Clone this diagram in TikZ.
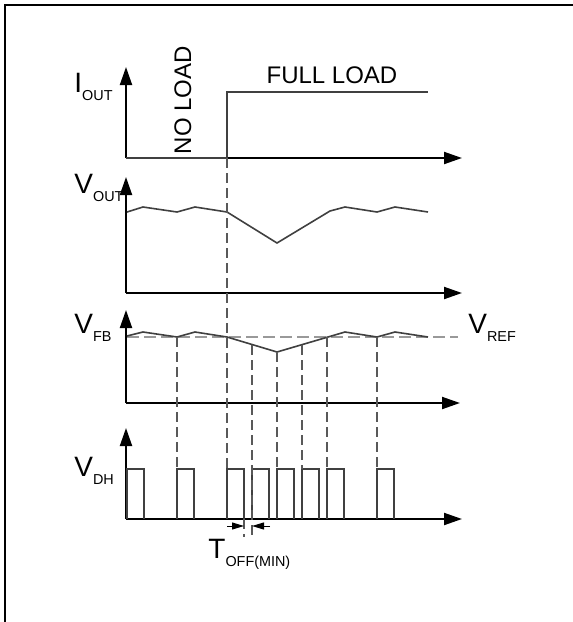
\documentclass[tikz,border=0pt]{standalone}
\usepackage{fontspec}
\setmainfont{Liberation Sans}
\usetikzlibrary{arrows.meta}

\newcommand{\sig}[2]{{\fontsize{14}{16}\selectfont #1}\raisebox{-4pt}{\fontsize{7.2}{9}\selectfont #2}}

\tikzset{
  axis/.style={line width=1pt,-{Triangle[length=9pt,width=6pt]}},
  wave/.style={line width=0.8pt,black!75},
  guide/.style={line width=0.7pt,black!65,dash pattern=on 5pt off 2.5pt},
  reflevel/.style={line width=0.8pt,black!40,dash pattern=on 6pt off 2.5pt},
  siglabel/.style={inner sep=0pt,anchor=base west},
  loadlabel/.style={inner sep=0pt,anchor=base,font=\fontsize{12}{14}\selectfont},
  toff/.style={line width=0.5pt,-{Triangle[length=6pt,width=3.5pt]}}
}

\begin{document}
\begin{tikzpicture}[x=0.5pt,y=-0.5pt]
  % pixel grid of the sheet, y counted downwards
  \useasboundingbox (0,0) rectangle (573,622);
  \draw[line width=1pt] (5,622) -- (5,5) -- (573,5);

  % axes of the four traces
  \foreach \ytop/\ybase/\xend in {67/158/462,177/293/462,310/403/460,428/519/462}{
    \draw[axis] (126,\ybase) -- (126,\ytop);
    \draw[axis] (126,\ybase) -- (\xend,\ybase);
  }

  % load current step
  \draw[wave] (126,158) -- (227,158) -- (227,92) -- (428,92);
  \node[loadlabel] (full) at (332,83) {FULL LOAD};
  \node[loadlabel,rotate=90] (noload) at (191,100) {NO LOAD};

  % output voltage
  \draw[wave] (127,212) -- (143,207) -- (177,212) -- (195,207) -- (227,212)
    -- (277,243) -- (330,211) -- (345,207) -- (377,212) -- (395,207) -- (428,212);

  % feedback voltage and reference level
  \draw[reflevel] (127,337) -- (458,337);
  \draw[wave] (127,336) -- (143,332) -- (177,337) -- (195,332) -- (227,337)
    -- (277,352) -- (328,337) -- (345,332) -- (377,337) -- (395,332) -- (428,337);

  % switching pulses
  \foreach \p in {127,177,227,252,277,302,327,377}{
    \draw[wave,line width=1pt] (\p,519) -- (\p,469) -- (\p+17,469) -- (\p+17,519);
  }

  % timing guides
  \foreach \x/\ya/\yb in {177/337/469,227/158/469,252/345/537,277/352/469,
                          302/345/469,327/337/469,377/337/469,244/519/537}{
    \draw[guide] (\x,\ya) -- (\x,\yb);
  }
  \coordinate (offa) at (244,526);
  \coordinate (offb) at (252,526);
  \draw[toff] (227,526) -- (offa);
  \draw[toff] (270,526) -- (offb);

  \node[siglabel] (iout) at (74,92) {\sig{I}{OUT}};
  \node[siglabel] (vout) at (74,193) {\sig{V}{OUT}};
  \node[siglabel] (vfb) at (74,333) {\sig{V}{FB}};
  \node[siglabel] (vref) at (468,333) {\sig{V}{REF}};
  \node[siglabel] (vdh) at (74,476) {\sig{V}{DH}};
  \node[siglabel] (toffmin) at (208,558) {\sig{T}{OFF(MIN)}};
\end{tikzpicture}
\end{document}
